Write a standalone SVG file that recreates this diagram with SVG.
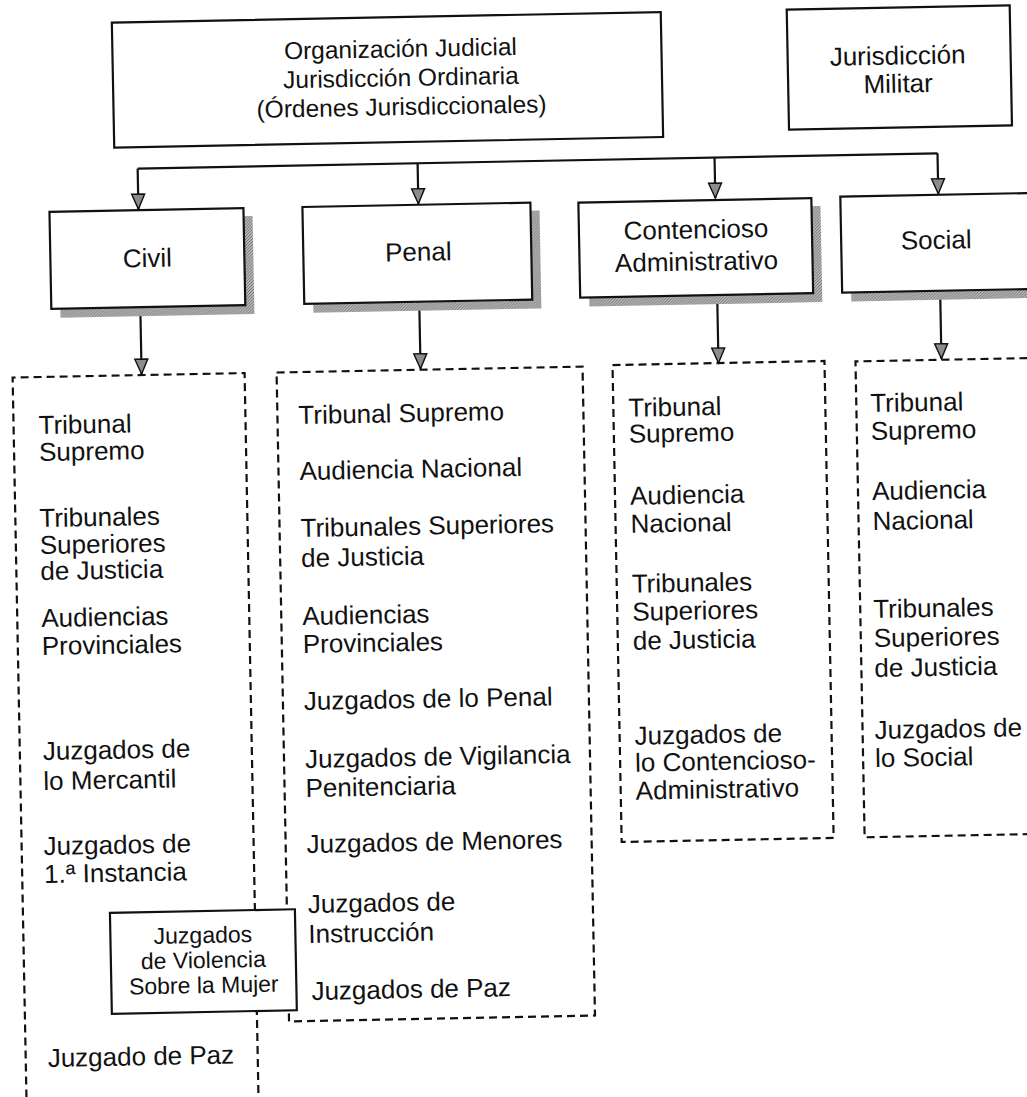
<svg xmlns="http://www.w3.org/2000/svg" width="1027" height="1097" viewBox="0 0 1027 1097">
  <defs>
    <style>
      text { font-family: "Liberation Sans", Arial, sans-serif; fill: #111; }
      .t { font-size: 26px; }
      .ttl { font-size: 24.5px; text-anchor: middle; }
      .lbl { font-size: 26px; text-anchor: middle; }
      .sm { font-size: 23px; text-anchor: middle; }
      .box { fill: #fff; stroke: #111; stroke-width: 2.2; }
      .shadow { fill: url(#hatch); stroke: none; }
      .dash { fill: none; stroke: #111; stroke-width: 2.2; stroke-dasharray: 8 5; }
      .conn { fill: none; stroke: #111; stroke-width: 2.2; }
    </style>
    <pattern id="hatch" width="3" height="3" patternUnits="userSpaceOnUse">
      <rect width="3" height="3" fill="#b8b8b8"/>
      <path d="M0,3 L3,0" stroke="#6a6a6a" stroke-width="0.9"/>
    </pattern>
    <marker id="arr" markerUnits="userSpaceOnUse" viewBox="-16 -8 18 16" refX="0" refY="0" markerWidth="18" markerHeight="16" orient="auto">
      <path d="M-15,-6.5 L0,0 L-15,6.5 Z" fill="#8c8c8c" stroke="#111" stroke-width="1.4" stroke-linejoin="miter"/>
    </marker>
  </defs>
  <rect width="1027" height="1097" fill="#fff"/>
  <g transform="rotate(-1.1 513 548)">
    <g id="organizacion">
      <rect class="box" x="122" y="15" width="549" height="125"/>
      <text class="ttl" x="410" y="55">Organización Judicial</text>
      <text class="ttl" x="410" y="84">Jurisdicción Ordinaria</text>
      <text class="ttl" x="410" y="113">(Órdenes Jurisdiccionales)</text>
    </g>
    <g id="militar">
      <rect class="box" x="797" y="15" width="223" height="120"/>
      <text class="lbl" x="907" y="72">Jurisdicción</text>
      <text class="lbl" x="907" y="100">Militar</text>
    </g>
    <g id="connectors">
      <path class="conn" d="M145,161.5 H945"/>
      <path class="conn" d="M145,161.5 V202" marker-end="url(#arr)"/>
      <path class="conn" d="M425,161.5 V202" marker-end="url(#arr)"/>
      <path class="conn" d="M722,161.5 V202" marker-end="url(#arr)"/>
      <path class="conn" d="M945,161.5 V202" marker-end="url(#arr)"/>
      <path class="conn" d="M145,300 V367" marker-end="url(#arr)"/>
      <path class="conn" d="M424,300 V367" marker-end="url(#arr)"/>
      <path class="conn" d="M722,298 V367" marker-end="url(#arr)"/>
      <path class="conn" d="M945,298 V367" marker-end="url(#arr)"/>
    </g>
    <g id="civil">
      <rect class="shadow" x="65" y="211" width="194" height="98"/>
      <rect class="box" x="56" y="203" width="194" height="97"/>
      <text class="lbl" x="153" y="260">Civil</text>
    </g>
    <g id="penal">
      <rect class="shadow" x="318" y="211" width="228" height="98"/>
      <rect class="box" x="309" y="203" width="228" height="97"/>
      <text class="lbl" x="424" y="259">Penal</text>
    </g>
    <g id="contencioso">
      <rect class="shadow" x="594" y="212" width="233" height="96"/>
      <rect class="box" x="585" y="204" width="233" height="95"/>
      <text class="lbl" x="702" y="242">Contencioso</text>
      <text class="lbl" x="702" y="274">Administrativo</text>
    </g>
    <g id="social">
      <rect class="shadow" x="856" y="212" width="200" height="96"/>
      <rect class="box" x="847" y="203" width="200" height="96"/>
      <text class="lbl" x="942" y="257">Social</text>
    </g>
    <g id="civil-list">
      <path class="dash" d="M16,1140 V368 H248 V1140"/>
      <text class="t" x="41" y="425">Tribunal</text>
      <text class="t" x="41" y="452">Supremo</text>
      <text class="t" x="40" y="518">Tribunales</text>
      <text class="t" x="40" y="545">Superiores</text>
      <text class="t" x="40" y="571">de Justicia</text>
      <text class="t" x="40" y="618">Audiencias</text>
      <text class="t" x="40" y="646">Provinciales</text>
      <text class="t" x="39" y="751">Juzgados de</text>
      <text class="t" x="39" y="781">lo Mercantil</text>
      <text class="t" x="38" y="846">Juzgados de</text>
      <text class="t" x="38" y="874">1.ª Instancia</text>
      <text class="t" x="38" y="1058">Juzgado de Paz</text>
    </g>
    <g id="penal-list">
      <rect class="dash" x="280" y="368" width="306" height="649"/>
      <text class="t" x="301" y="420">Tribunal Supremo</text>
      <text class="t" x="301" y="476">Audiencia Nacional</text>
      <text class="t" x="301" y="533">Tribunales Superiores</text>
      <text class="t" x="301" y="563">de Justicia</text>
      <text class="t" x="301" y="621">Audiencias</text>
      <text class="t" x="301" y="649">Provinciales</text>
      <text class="t" x="301" y="706">Juzgados de lo Penal</text>
      <text class="t" x="301" y="764">Juzgados de Vigilancia</text>
      <text class="t" x="301" y="793">Penitenciaria</text>
      <text class="t" x="301" y="849">Juzgados de Menores</text>
      <text class="t" x="301" y="909">Juzgados de</text>
      <text class="t" x="301" y="939">Instrucción</text>
      <text class="t" x="303" y="996">Juzgados de Paz</text>
    </g>
    <g id="violencia">
      <rect class="box" x="103" y="905" width="185" height="101"/>
      <text class="sm" x="195.5" y="937">Juzgados</text>
      <text class="sm" x="195.5" y="962">de Violencia</text>
      <text class="sm" x="195.5" y="987">Sobre la Mujer</text>
    </g>
    <g id="contencioso-list">
      <rect class="dash" x="616" y="367" width="212" height="477"/>
      <text class="t" x="631" y="419">Tribunal</text>
      <text class="t" x="631" y="445">Supremo</text>
      <text class="t" x="631" y="507">Audiencia</text>
      <text class="t" x="631" y="535">Nacional</text>
      <text class="t" x="631" y="595">Tribunales</text>
      <text class="t" x="631" y="623">Superiores</text>
      <text class="t" x="631" y="652">de Justicia</text>
      <text class="t" x="631" y="747">Juzgados de</text>
      <text class="t" x="631" y="774">lo Contencioso-</text>
      <text class="t" x="631" y="802">Administrativo</text>
    </g>
    <g id="social-list">
      <path class="dash" d="M1070,368 H859 V844 H1070"/>
      <text class="t" x="873" y="419">Tribunal</text>
      <text class="t" x="873" y="447">Supremo</text>
      <text class="t" x="873" y="507">Audiencia</text>
      <text class="t" x="873" y="537">Nacional</text>
      <text class="t" x="872" y="625">Tribunales</text>
      <text class="t" x="872" y="654">Superiores</text>
      <text class="t" x="872" y="684">de Justicia</text>
      <text class="t" x="871" y="746">Juzgados de</text>
      <text class="t" x="871" y="774">lo Social</text>
    </g>
  </g>
</svg>
